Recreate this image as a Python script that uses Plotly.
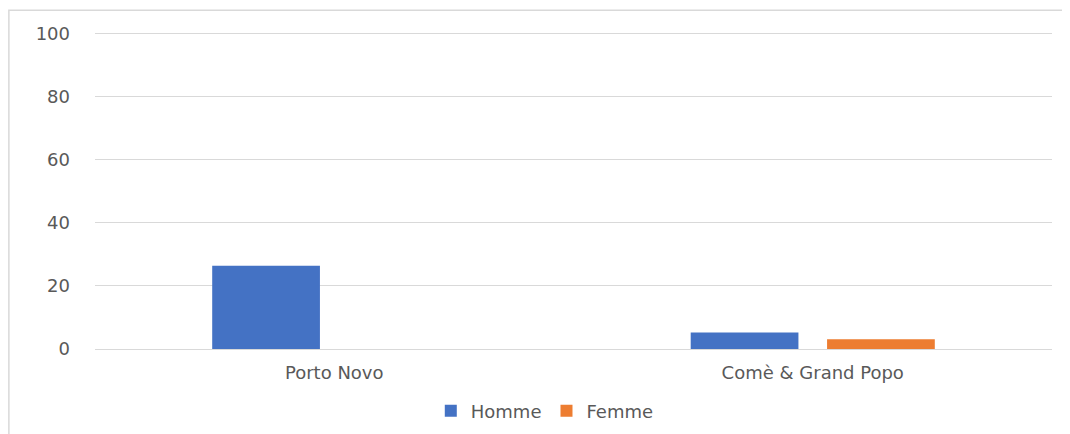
import plotly.graph_objects as go

# data
categories = ["Porto Novo", "Comè & Grand Popo"]
homme = [26.4, 5.2]
femme = [0, 3.1]
y_ticks = [0, 20, 40, 60, 80, 100]

fig = go.Figure()
fig.add_trace(go.Bar(x=categories, y=homme, name="Homme",
                     marker=dict(color="#4472C4", line=dict(width=0))))
fig.add_trace(go.Bar(x=categories, y=femme, name="Femme",
                     marker=dict(color="#ED7D31", line=dict(width=0))))

# page has an 8px body margin, so the figure is shrunk by that much
fig.update_layout(
    width=1062, height=426,
    margin=dict(l=87, r=18, t=24, b=85, autoexpand=False),
    paper_bgcolor="white", plot_bgcolor="white",
    font=dict(family="DejaVu Sans", size=18, color="#595959"),
    barmode="group", bargap=0.43, bargroupgap=0.21,
    showlegend=True,
    legend=dict(orientation="h", x=0.47, xanchor="center",
                yref="container", y=0.054, yanchor="middle",
                font=dict(size=18, color="#595959"), itemwidth=30),
    xaxis=dict(showgrid=False, showline=False, ticks="", ticklabelstandoff=11,
               tickfont=dict(size=18), automargin=False),
    yaxis=dict(range=[0, 100.4], tickvals=y_ticks, showgrid=True, gridcolor="#d9d9d9",
               gridwidth=1.3, zeroline=True, zerolinecolor="#d9d9d9", zerolinewidth=1.3,
               showline=False, ticks="", ticklabelstandoff=24, tickfont=dict(size=18),
               automargin=False),
    shapes=[dict(type="rect", xref="paper", yref="paper",
                 x0=-0.09, x1=1.05, y0=-0.4, y1=1.069,
                 line=dict(color="#d9d9d9", width=1.5), fillcolor="rgba(0,0,0,0)")],
)

fig.write_html("out.html")
